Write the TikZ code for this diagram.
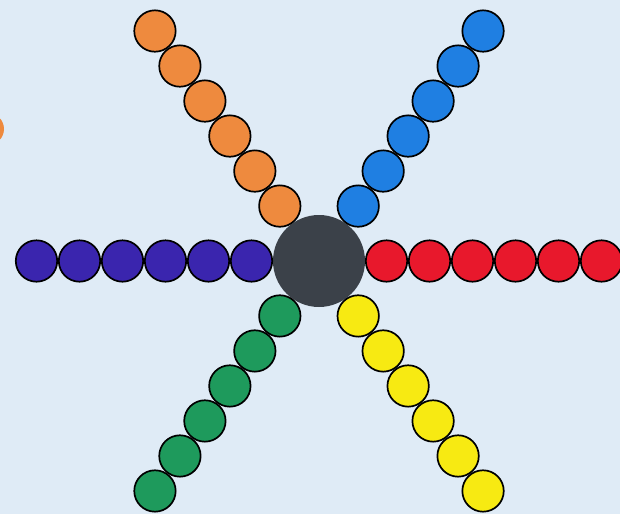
\documentclass[tikz,border=0pt]{standalone}
\definecolor{bgcol}{HTML}{DFEBF6}
\definecolor{hubcol}{HTML}{3B4149}
\definecolor{beadred}{HTML}{E8182C}
\definecolor{beadyellow}{HTML}{F7EA12}
\definecolor{beadgreen}{HTML}{1E9A5C}
\definecolor{beadindigo}{HTML}{3A25AE}
\definecolor{beadorange}{HTML}{EE8A3E}
\definecolor{beadblue}{HTML}{1F7FE2}
\begin{document}
\begin{tikzpicture}[x=1pt,y=-1pt,
  bead/.style={circle,draw=black,line width=1.7pt,minimum size=41.4pt,inner sep=0pt},
  hub/.style={circle,fill=hubcol,minimum size=92pt,inner sep=0pt}]
\useasboundingbox (0,0) rectangle (620,514);
\clip (0,0) rectangle (620,514);
\fill[bgcol] (0,0) rectangle (620,514);
\fill[beadorange] (-12,129) circle (16);
\node[hub] (hub) at (319,261) {};
\foreach \arm/\ang/\col in {r/0/beadred, y/54.5/beadyellow, g/125.5/beadgreen, i/180/beadindigo, o/234.5/beadorange, b/305.5/beadblue}{
  \foreach \k in {0,...,5}{
    \node[bead, fill=\col] (\arm\k) at ({319+(67.5+43*\k)*cos(\ang)},{261+(67.5+43*\k)*sin(\ang)}) {};
  }
}
\end{tikzpicture}
\end{document}
